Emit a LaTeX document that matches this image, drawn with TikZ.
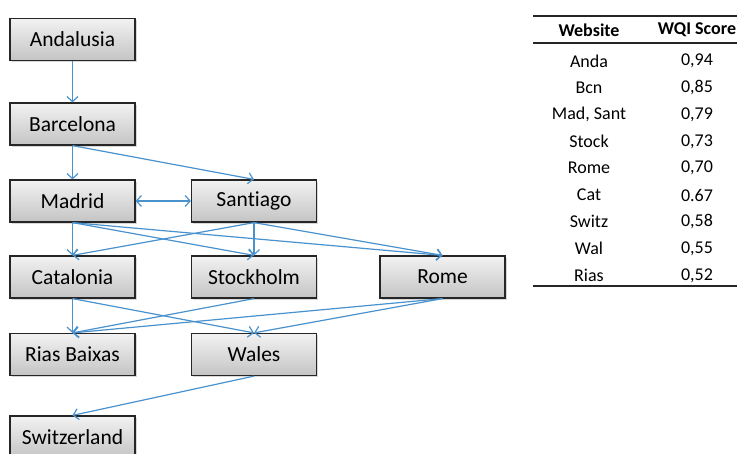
\documentclass[tikz,border=0pt]{standalone}
\usepackage{fontspec}
\setmainfont{Carlito}[Ligatures=NoCommon]
\usetikzlibrary{arrows.meta,shadows}
\definecolor{linkblue}{HTML}{4A92CE}
\definecolor{boxtop}{HTML}{F2F2F2}
\definecolor{boxbottom}{HTML}{C4C4C4}
\begin{document}
\begin{tikzpicture}[x=1pt,y=-1pt,
  site/.style={draw=black!85, line width=1.2pt, rectangle,
    minimum width=125pt, minimum height=42pt, inner sep=0pt,
    top color=boxtop, bottom color=boxbottom,
    drop shadow={shadow xshift=1.5pt, shadow yshift=-1.5pt, fill=black!30},
    font=\fontsize{21.5}{25}\selectfont},
  tip/.tip={Straight Barb[length=5pt,width=11pt,line width=1.2pt]},
  link/.style={draw=linkblue, line width=1.2pt, -tip},
  both/.style={link, tip-tip},
  cell/.style={font=\fontsize{18}{21}\selectfont, anchor=center, inner sep=0pt},
  head/.style={cell, font=\fontsize{18}{21}\selectfont\bfseries},
  rule/.style={draw=black!85, line width=1.2pt}]
\useasboundingbox[fill=white] (0,0) rectangle (737,453);

% website nodes
\node[site] (and) at (72.5,39.5) {Andalusia};
\node[site] (bcn) at (72.5,124) {Barcelona};
\node[site] (mad) at (72.5,201) {Madrid};
\node[site] (san) at (254,201) {Santiago};
\node[site] (cat) at (72.5,277) {Catalonia};
\node[site] (sto) at (254,277) {Stockholm};
\node[site] (rom) at (442.5,277) {Rome};
\node[site] (ria) at (72.5,354.5) {Rias Baixas};
\node[site] (wal) at (254,354.5) {Wales};
\node[site] (swi) at (72.5,437) {Switzerland};

% links between websites
\draw[link] (and.south) -- (bcn.north);
\draw[link] (bcn.south) -- (mad.north);
\draw[link] (bcn.south) -- (san.north);
\draw[both] (mad.east) -- (san.west);
\draw[link] (mad.south) -- (cat.north);
\draw[link] (mad.south) -- (sto.north);
\draw[link] (mad.south) -- (rom.north);
\draw[link] (san.south) -- (cat.north);
\draw[link] (san.south) -- (sto.north);
\draw[link] (san.south) -- (rom.north);
\draw[link] (cat.south) -- (ria.north);
\draw[link] (cat.south) -- (wal.north);
\draw[link] (sto.south) -- (ria.north);
\draw[link] (rom.south) -- (ria.north);
\draw[link] (rom.south) -- (wal.north);
\draw[link] (wal.south) -- (swi.north);

% score table
\coordinate (tl) at (533,16);
\coordinate (tr) at (737,16);
\coordinate (ml) at (533,43);
\coordinate (mr) at (737,43);
\coordinate (bl) at (533,286);
\coordinate (br) at (737,286);
\draw[rule] (tl) -- (tr);
\draw[rule] (ml) -- (mr);
\draw[rule] (bl) -- (br);
\node[head] (h1) at (589,30) {Website};
\node[head] (h2) at (697,30) {WQI Score};
\foreach \n/\s [count=\i from 0] in {Anda/{0,94},Bcn/{0,85},{Mad, Sant}/{0,79},Stock/{0,73},Rome/{0,70},Cat/{0.67},Switz/{0,58},Wal/{0,55},Rias/{0,52}}{
  \node[cell] (w\i) at (589,{61+26.8*\i}) {\n};
  \node[cell] (s\i) at (697,{61+26.8*\i}) {\s};
}
\end{tikzpicture}
\end{document}
